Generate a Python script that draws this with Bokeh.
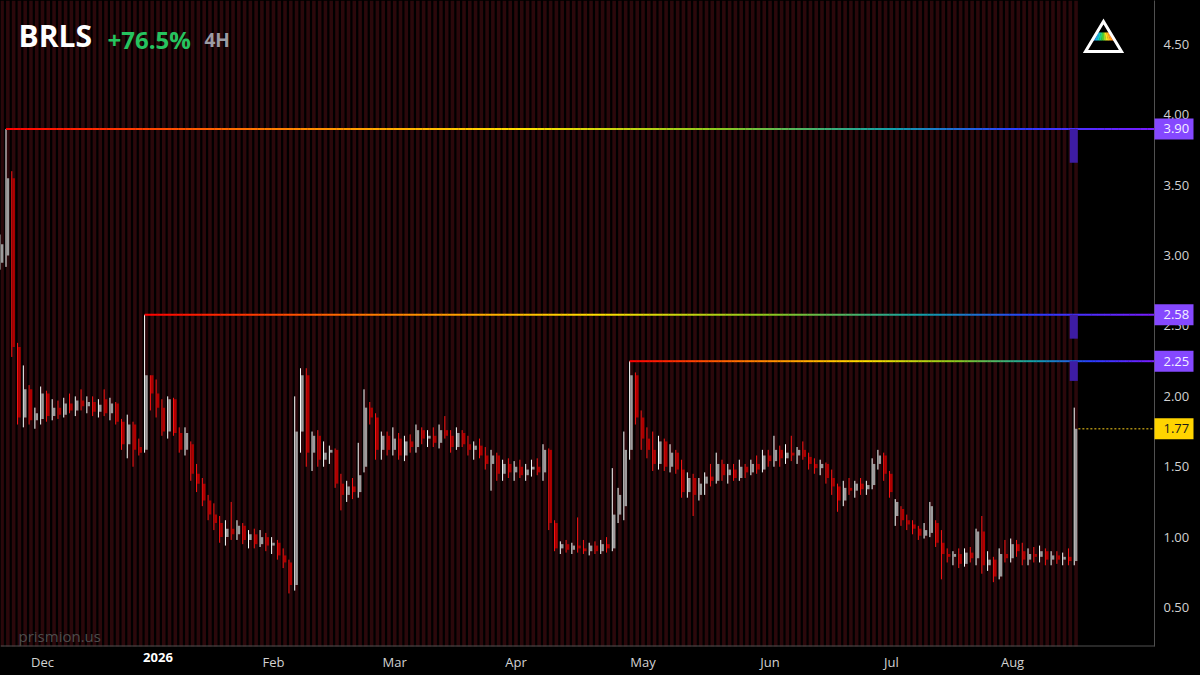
from bokeh.plotting import figure
from bokeh.models import ColumnDataSource, FixedTicker, PrintfTickFormatter, Label, Range1d, LinearAxis
from bokeh.core.properties import value
from bokeh.embed import file_html
from bokeh.resources import INLINE

# ---------------- data ----------------
ticker_name = "BRLS"
change_text = "+76.5%"
interval_text = "4H"
watermark = "prismion.us"

month_labels = ["", "Dec", "2026", "Feb", "Mar", "Apr", "May", "Jun", "Jul", "Aug"]
month_sizes = [7, 20, 20, 21, 21, 22, 22, 21, 21, 12]

opens = [
    2.95, 3.00, 3.55, 2.35, 1.85, 2.05, 1.83, 1.84, 2.02, 1.86,
    1.92, 1.87, 1.95, 1.90, 1.97, 1.93, 1.96, 1.89, 1.98, 1.88,
    1.95, 1.82, 1.66, 1.80, 1.64, 1.62, 2.15, 2.02, 1.92, 1.75,
    1.98, 1.74, 1.62, 1.66, 1.45, 1.38, 1.26, 1.16, 1.10, 1.00,
    1.06, 1.02, 1.08, 0.98, 1.02, 0.95, 1.00, 0.94, 0.96, 0.87,
    0.82, 0.66, 1.75, 2.15, 1.60, 1.72, 1.55, 1.60, 1.62, 1.38,
    1.30, 1.36, 1.32, 1.50, 1.92, 1.85, 1.62, 1.72, 1.62, 1.70,
    1.58, 1.68, 1.64, 1.76, 1.70, 1.72, 1.67, 1.76, 1.72, 1.64,
    1.74, 1.66, 1.62, 1.65, 1.58, 1.52, 1.58, 1.45, 1.52, 1.46,
    1.50, 1.44, 1.48, 1.50, 1.46, 1.62, 1.10, 0.92, 0.95, 0.91,
    0.94, 0.92, 0.90, 0.94, 0.90, 0.95, 0.92, 1.16, 1.22, 1.62,
    2.15, 1.85, 1.70, 1.62, 1.52, 1.68, 1.50, 1.60, 1.48, 1.32,
    1.42, 1.30, 1.38, 1.43, 1.40, 1.52, 1.44, 1.48, 1.42, 1.50,
    1.46, 1.52, 1.48, 1.58, 1.54, 1.62, 1.56, 1.60, 1.58, 1.62,
    1.57, 1.52, 1.49, 1.52, 1.42, 1.36, 1.26, 1.35, 1.33, 1.38,
    1.34, 1.37, 1.52, 1.58, 1.45, 1.15, 1.20, 1.12, 1.09, 1.06,
    1.01, 1.03, 1.10, 0.96, 0.88, 0.86, 0.88, 0.81, 0.89, 0.85,
    1.04, 0.80, 0.84, 0.72, 0.88, 0.85, 0.95, 0.90, 0.84, 0.88,
    0.86, 0.90, 0.84, 0.87, 0.84, 0.86, 0.83,
]
highs = [
    3.15, 3.90, 3.60, 2.38, 2.22, 2.08, 1.92, 2.07, 2.04, 1.98,
    1.97, 1.99, 2.02, 2.00, 2.05, 2.00, 2.00, 1.98, 2.05, 1.99,
    1.96, 1.84, 1.87, 1.82, 1.70, 2.58, 2.15, 2.12, 1.98, 2.00,
    1.99, 1.78, 1.78, 1.68, 1.52, 1.42, 1.30, 1.24, 1.15, 1.12,
    1.25, 1.12, 1.10, 1.05, 1.06, 1.05, 1.03, 1.00, 0.98, 0.92,
    0.84, 2.00, 2.20, 2.20, 1.75, 1.76, 1.68, 1.65, 1.63, 1.45,
    1.40, 1.42, 1.67, 2.05, 1.96, 1.88, 1.75, 1.75, 1.78, 1.74,
    1.72, 1.73, 1.80, 1.78, 1.76, 1.78, 1.80, 1.86, 1.76, 1.78,
    1.76, 1.72, 1.68, 1.70, 1.64, 1.62, 1.60, 1.55, 1.56, 1.54,
    1.55, 1.52, 1.55, 1.56, 1.66, 1.63, 1.12, 0.97, 0.98, 0.96,
    1.14, 0.98, 0.96, 0.97, 0.98, 1.00, 1.49, 1.35, 1.75, 2.25,
    2.17, 1.90, 1.78, 1.75, 1.72, 1.70, 1.66, 1.62, 1.55, 1.46,
    1.45, 1.42, 1.46, 1.52, 1.60, 1.55, 1.52, 1.52, 1.55, 1.52,
    1.55, 1.58, 1.62, 1.62, 1.72, 1.65, 1.66, 1.72, 1.64, 1.68,
    1.60, 1.56, 1.55, 1.53, 1.48, 1.38, 1.40, 1.42, 1.40, 1.42,
    1.40, 1.56, 1.62, 1.60, 1.47, 1.27, 1.22, 1.16, 1.12, 1.08,
    1.10, 1.25, 1.12, 1.05, 0.92, 0.90, 0.92, 0.92, 0.93, 1.06,
    1.15, 0.90, 0.86, 0.92, 0.98, 0.99, 0.98, 0.96, 0.92, 0.93,
    0.94, 0.92, 0.90, 0.90, 0.89, 0.92, 1.92,
]
lows = [
    2.90, 2.92, 2.28, 1.80, 1.78, 1.80, 1.77, 1.80, 1.82, 1.83,
    1.84, 1.85, 1.88, 1.86, 1.90, 1.88, 1.86, 1.85, 1.86, 1.83,
    1.80, 1.62, 1.56, 1.50, 1.58, 1.60, 1.90, 1.85, 1.72, 1.70,
    1.72, 1.60, 1.58, 1.40, 1.32, 1.22, 1.12, 1.05, 0.96, 0.94,
    0.98, 0.98, 0.95, 0.92, 0.92, 0.93, 0.90, 0.88, 0.84, 0.78,
    0.60, 0.62, 1.60, 1.50, 1.47, 1.50, 1.50, 1.52, 1.35, 1.19,
    1.25, 1.27, 1.28, 1.46, 1.80, 1.55, 1.55, 1.58, 1.58, 1.55,
    1.54, 1.60, 1.60, 1.66, 1.64, 1.64, 1.63, 1.70, 1.60, 1.62,
    1.64, 1.58, 1.55, 1.56, 1.48, 1.33, 1.40, 1.40, 1.42, 1.40,
    1.42, 1.40, 1.43, 1.44, 1.40, 1.05, 0.90, 0.88, 0.89, 0.88,
    0.89, 0.88, 0.87, 0.88, 0.88, 0.89, 0.90, 1.10, 1.12, 1.55,
    1.80, 1.62, 1.56, 1.47, 1.48, 1.47, 1.46, 1.45, 1.28, 1.28,
    1.15, 1.26, 1.30, 1.36, 1.38, 1.40, 1.38, 1.40, 1.40, 1.42,
    1.44, 1.45, 1.46, 1.50, 1.50, 1.50, 1.52, 1.54, 1.52, 1.55,
    1.48, 1.45, 1.44, 1.38, 1.30, 1.18, 1.22, 1.30, 1.28, 1.30,
    1.30, 1.34, 1.48, 1.40, 1.28, 1.08, 1.08, 1.05, 1.02, 0.98,
    0.99, 1.00, 0.93, 0.70, 0.82, 0.80, 0.78, 0.79, 0.82, 0.80,
    0.74, 0.76, 0.68, 0.70, 0.82, 0.82, 0.86, 0.80, 0.80, 0.82,
    0.82, 0.80, 0.80, 0.81, 0.80, 0.80, 0.80,
]
closes = [
    3.08, 3.55, 2.35, 1.85, 2.05, 1.83, 1.88, 2.02, 1.86, 1.92,
    1.87, 1.95, 1.90, 1.97, 1.93, 1.96, 1.89, 1.94, 1.88, 1.95,
    1.82, 1.66, 1.80, 1.62, 1.60, 2.15, 2.02, 1.92, 1.75, 1.98,
    1.74, 1.62, 1.74, 1.45, 1.38, 1.26, 1.16, 1.10, 1.00, 1.06,
    1.02, 1.08, 0.98, 1.02, 0.95, 1.00, 0.94, 0.96, 0.87, 0.82,
    0.66, 1.75, 2.15, 1.60, 1.72, 1.55, 1.60, 1.62, 1.38, 1.30,
    1.36, 1.32, 1.44, 1.92, 1.85, 1.62, 1.72, 1.62, 1.70, 1.58,
    1.68, 1.64, 1.76, 1.70, 1.72, 1.67, 1.76, 1.72, 1.64, 1.74,
    1.66, 1.62, 1.65, 1.58, 1.52, 1.58, 1.45, 1.52, 1.46, 1.50,
    1.44, 1.48, 1.50, 1.46, 1.62, 1.10, 0.92, 0.95, 0.91, 0.94,
    0.92, 0.90, 0.94, 0.90, 0.95, 0.92, 1.16, 1.30, 1.62, 2.15,
    1.85, 1.70, 1.62, 1.52, 1.68, 1.50, 1.60, 1.48, 1.32, 1.42,
    1.30, 1.38, 1.43, 1.40, 1.52, 1.44, 1.48, 1.42, 1.50, 1.46,
    1.52, 1.48, 1.58, 1.54, 1.62, 1.56, 1.60, 1.58, 1.62, 1.57,
    1.52, 1.49, 1.52, 1.42, 1.36, 1.26, 1.35, 1.33, 1.38, 1.34,
    1.37, 1.52, 1.58, 1.45, 1.32, 1.25, 1.12, 1.09, 1.06, 1.01,
    1.05, 1.22, 0.96, 0.88, 0.86, 0.88, 0.81, 0.89, 0.85, 1.04,
    0.80, 0.84, 0.72, 0.88, 0.85, 0.95, 0.90, 0.84, 0.88, 0.86,
    0.90, 0.84, 0.87, 0.84, 0.86, 0.83, 1.77,
]

y_ticks = [0.50, 1.00, 1.50, 2.00, 2.50, 3.00, 3.50, 4.00, 4.50]

level_prices = [3.90, 2.58, 2.25]
level_start = [1, 25, 109]
level_floor = [3.66, 2.41, 2.11]

# ---------------- geometry / style ----------------
W, H = 1200, 675
FRAME_W, FRAME_H = 1200, 675
AXIS_PX = 1154        # price scale position
BASE_PX = 646         # time scale position
x_start, x_end = -0.274, 207.55
y_end = 4.8126
y_per_px = (4.8126 - 0.2229) / 646.0
y_start = y_end - FRAME_H * y_per_px


def dx(px):
    return x_start + px / FRAME_W * (x_end - x_start)


def dy(py):
    return y_end - py * y_per_px


def hex2rgb(h):
    h = h.lstrip("#")
    return tuple(int(h[i:i + 2], 16) for i in (0, 2, 4))


def lerp_stops(stops, t):
    for (t0, c0), (t1, c1) in zip(stops[:-1], stops[1:]):
        if t <= t1:
            f = 0 if t1 == t0 else (t - t0) / (t1 - t0)
            a, b = hex2rgb(c0), hex2rgb(c1)
            r = [round(a[k] + (b[k] - a[k]) * f) for k in range(3)]
            return "#%02x%02x%02x" % tuple(r)
    return stops[-1][1]


line_stops = [(0.0, "#ff0000"), (0.22, "#ff7800"), (0.45, "#ffe000"),
              (0.62, "#8cc81e"), (0.77, "#12a0a8"), (0.88, "#2a3cff"), (1.0, "#7a1cff")]
logo_stops = [(0.0, "#2f6bff"), (0.25, "#14c8c8"), (0.45, "#3cd23c"),
              (0.65, "#f5e61e"), (0.85, "#ff9a1e"), (1.0, "#ff4a1e")]

n = len(closes)
idx = list(range(n))

tick_pos = []
acc = 0
for lab, size in zip(month_labels, month_sizes):
    if lab:
        tick_pos.append(acc)
    acc += size
tick_labels = [l for l in month_labels if l]

x_axis_data = dx(AXIS_PX)
y_base_data = dy(BASE_PX)

p = figure(width=W, height=H,
           x_range=Range1d(x_start, x_end), y_range=Range1d(y_start, y_end),
           output_backend="svg", toolbar_location=None, y_axis_location="right",
           background_fill_color="#000000", border_fill_color="#000000",
           min_border_left=0, min_border_top=0, min_border_right=0, min_border_bottom=0)
p.outline_line_color = None
p.xgrid.visible = False
p.ygrid.visible = False

# background stripes, one per candle
p.vbar(x=idx, width=0.62, bottom=y_base_data, top=y_end + 1,
       fill_color="#2b080b", line_color=None)

# candles
up = [c >= o for o, c in zip(opens, closes)]
src = ColumnDataSource(dict(
    x=idx,
    wx=[i - 0.32 for i in idx],
    top=[max(o, c) for o, c in zip(opens, closes)],
    bottom=[min(o, c) for o, c in zip(opens, closes)],
    high=highs, low=lows,
    body=["#9c9c9c" if u else "#b00000" for u in up],
    wick=["#ffffff" if u else "#ff1414" for u in up],
))
p.segment(x0="wx", y0="low", x1="wx", y1="high", line_color="wick", line_width=1, source=src)
p.vbar(x="x", width=0.45, top="top", bottom="bottom", fill_color="body", line_color=None, source=src)

# rainbow level lines
NSEG = 160
for lvl, s in zip(level_prices, level_start):
    xa = s - 0.32
    xb = x_axis_data
    x0s, x1s, cols = [], [], []
    for k in range(NSEG):
        t0 = k / NSEG
        t1 = (k + 1) / NSEG
        x0s.append(xa + (xb - xa) * t0)
        x1s.append(min(xa + (xb - xa) * t1 + 0.05, xb))
        cols.append(lerp_stops(line_stops, (t0 + t1) / 2))
    p.segment(x0=x0s, y0=[lvl] * NSEG, x1=x1s, y1=[lvl] * NSEG, line_color=cols, line_width=2)

# small purple markers under levels at the last candle
last = n - 1
p.quad(left=[last - 1.1] * len(level_prices), right=[last + 0.3] * len(level_prices),
       top=level_prices, bottom=level_floor, fill_color="#3d1ca3", line_color=None)

# dotted line at last price
p.segment(x0=[last + 0.4], y0=[closes[-1]], x1=[x_axis_data], y1=[closes[-1]],
          line_color="#a88b12", line_width=1.5, line_dash="2 2")

# scale border lines
p.segment(x0=[x_start, x_axis_data], y0=[dy(BASE_PX - 0.5), dy(BASE_PX)],
          x1=[x_axis_data, x_axis_data], y1=[dy(BASE_PX - 0.5), y_end + 1],
          line_color="#505050", line_width=1)

# logo
band_top, band_bot = 32, 40
apex = (1103, 21)
bl, br = (1085, 51), (1121, 51)


def tri_half(y):
    return (br[0] - bl[0]) / 2 * (y - apex[1]) / (bl[1] - apex[1])


NB = 10
ht, hb = tri_half(band_top), tri_half(band_bot)
for k in range(NB):
    f0, f1 = k / NB, (k + 1) / NB
    xt0 = apex[0] - ht + 2 * ht * f0
    xt1 = apex[0] - ht + 2 * ht * f1
    xb0 = apex[0] - hb + 2 * hb * f0
    xb1 = apex[0] - hb + 2 * hb * f1
    col = lerp_stops(logo_stops, (f0 + f1) / 2)
    p.patch(x=[dx(xt0), dx(xt1 + 0.3), dx(xb1 + 0.3), dx(xb0)],
            y=[dy(band_top), dy(band_top), dy(band_bot), dy(band_bot)],
            fill_color=col, line_color=None)
p.patch(x=[dx(apex[0]), dx(br[0]), dx(bl[0])],
        y=[dy(apex[1]), dy(br[1]), dy(bl[1])],
        fill_color=None, line_color="#ffffff", line_width=3, line_join="miter")

# y axis, fixed at the price-scale position
ya = p.yaxis[0]
ya.fixed_location = x_axis_data
ya.ticker = FixedTicker(ticks=y_ticks)
ya.formatter = PrintfTickFormatter(format="%.2f")
ya.axis_line_color = None
ya.major_tick_line_color = None
ya.minor_tick_line_color = None
ya.major_tick_out = 0
ya.major_tick_in = 0
ya.major_label_standoff = 9
ya.major_label_text_color = "#d2d2d2"
ya.major_label_text_font = "Open Sans"
ya.major_label_text_font_size = "13px"

# x axis, fixed at the time-scale position
xa_ = p.xaxis[0]
xa_.fixed_location = y_base_data
xa_.ticker = FixedTicker(ticks=tick_pos)
xa_.major_label_overrides = {t: ("" if l == "2026" else l) for t, l in zip(tick_pos, tick_labels)}
xa_.axis_line_color = None
xa_.major_tick_line_color = None
xa_.minor_tick_line_color = None
xa_.major_tick_out = 0
xa_.major_tick_in = 0
xa_.major_label_standoff = 6
xa_.major_label_text_color = "#d2d2d2"
xa_.major_label_text_font = "Open Sans"
xa_.major_label_text_font_size = "13px"

# bold year label via a second axis at the same place
year_ticks = [t for t, l in zip(tick_pos, tick_labels) if l == "2026"]
xa2 = LinearAxis(ticker=FixedTicker(ticks=year_ticks), fixed_location=y_base_data,
                 major_label_overrides={year_ticks[0]: "2026"},
                 axis_line_color=None, major_tick_line_color=None, minor_tick_line_color=None,
                 major_tick_out=0, major_tick_in=0, major_label_standoff=6,
                 major_label_text_color="#ffffff", major_label_text_font="Open Sans",
                 major_label_text_font_style="bold", major_label_text_font_size="13px")
p.add_layout(xa2, "below")

# title
p.add_layout(Label(x=dx(18), y=dy(35), text=ticker_name, text_align="left", text_baseline="middle",
                   text_color="#ffffff", text_font="Open Sans", text_font_style="bold",
                   text_font_size="30px"))
p.add_layout(Label(x=dx(107), y=dy(39), text=change_text, text_align="left", text_baseline="middle",
                   text_color="#26c35f", text_font="Open Sans", text_font_style="bold",
                   text_font_size="24px"))
p.add_layout(Label(x=dx(204), y=dy(39.5), text=interval_text, text_align="left", text_baseline="middle",
                   text_color="#9c9ca4", text_font="Open Sans", text_font_style="bold",
                   text_font_size="19px"))
p.add_layout(Label(x=dx(18), y=dy(635), text=watermark, text_align="left", text_baseline="middle",
                   text_color="#4d4d4d", text_font="Open Sans", text_font_size="15px"))

# price boxes on the scale
box_prices = level_prices + [closes[-1]]
box_fill = ["#8548ff"] * len(level_prices) + ["#ffd400"]
box_text_col = ["#f4f0ff"] * len(level_prices) + ["#1a1a1a"]
bsrc = ColumnDataSource(dict(
    x=[dx(AXIS_PX + 19.5)] * len(box_prices),
    tx=[dx(AXIS_PX + 9)] * len(box_prices),
    y=box_prices,
    txt=["%.2f" % v for v in box_prices],
    fill=box_fill, tcol=box_text_col,
))
p.rect(x="x", y="y", width=39, height=21, width_units="screen", height_units="screen",
       fill_color="fill", line_color=None, source=bsrc, level="overlay")
p.text(x="tx", y="y", text="txt", text_align="left", text_baseline="middle",
       text_color="tcol", text_font=value("Open Sans"), text_font_size="13px",
       source=bsrc, level="overlay")

html = file_html(p, INLINE, title="BRLS")
html = html.replace("</head>", "<style>html,body{margin:0;padding:0;background:#000;}</style></head>", 1)
open("out.html", "w").write(html)
